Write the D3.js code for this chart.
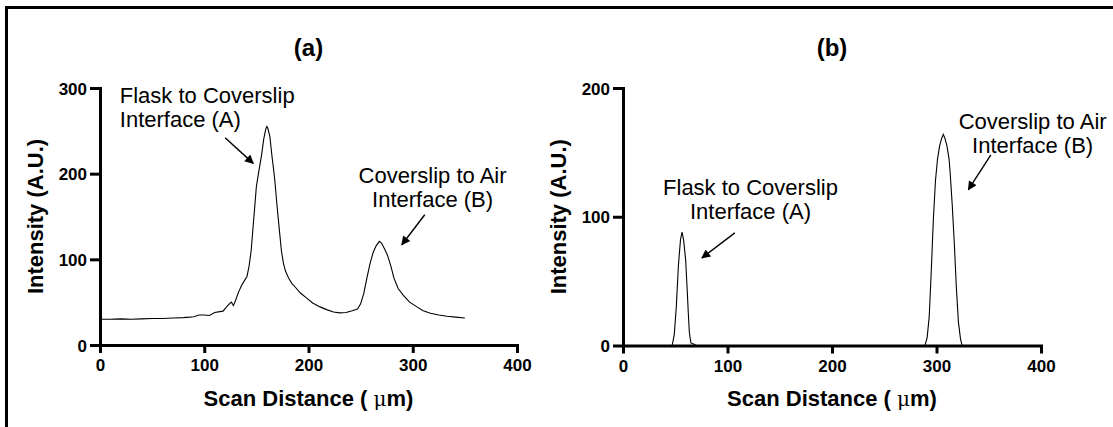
<!DOCTYPE html>
<html>
<head>
<meta charset="utf-8">
<script src="https://cdn.jsdelivr.net/npm/d3@7"></script>
<style>
	body { margin: 0; background: #fff; }
	svg { display: block; font-family: "Liberation Sans", Arial, sans-serif; }
</style>
</head>
<body>
<div id="chart"></div>
<script>
// tick values
var xTicks = [0, 100, 200, 300, 400];
var yTicksA = [0, 100, 200, 300];
var yTicksB = [0, 100, 200];

// panel (a) profile
var scanA = [0, 10, 20, 30, 40, 50, 60, 70, 80, 86, 90, 95, 100, 105, 110, 115, 118, 121, 124, 126, 128, 130,
	133, 136, 139, 141, 143, 145, 147, 149, 150, 152, 155, 157, 159, 160, 161, 163, 165, 167, 168, 170, 172,
	174, 176, 178, 181, 184, 187, 192, 198, 204, 211, 218, 224, 230, 236, 242, 247, 250, 253, 256, 259, 262,
	265, 268, 270, 273, 276, 279, 282, 286, 291, 297, 304, 310, 317, 325, 333, 341, 350];
var intensityA = [30, 30, 30.5, 30, 30.5, 31, 31, 31.5, 32, 32.5, 33, 35, 35, 34.5, 38, 39, 39.5, 44, 48, 50, 46, 52,
	62, 70, 76, 80, 92, 110, 140, 170, 185, 200, 222, 240, 252, 255, 253, 243, 220, 200, 188, 160, 135,
	110, 95, 86, 78, 72, 68, 61, 55, 49, 44.5, 41, 38.5, 37.5, 38, 40, 42, 48, 60, 78, 95, 108,
	116, 121, 119, 112, 104, 92, 78, 66, 58, 50, 44.5, 40, 37, 35, 33.5, 32.5, 31.5];

// panel (b) profile
var scanB = [0, 47, 49, 51, 53, 55, 56.5, 58, 60, 61.5, 62.5, 63.5, 65, 68, 70, 289, 291, 293, 295, 297, 299,
	301, 303, 305, 306.5, 308, 310, 312, 313, 315, 317, 319, 321, 323, 324.5, 350];
var intensityB = [0, 0, 8, 30, 62, 82, 88, 82, 66, 42, 25, 10, 2, 1, 0, 0, 6, 22, 58, 98, 128,
	145, 155, 161, 164, 161, 155, 145, 135, 110, 80, 45, 18, 5, 0, 0];

var panelTitles = ["(a)", "(b)"];
var xTitle = "Scan Distance (";
var yTitle = "Intensity (A.U.)";
var noteFlask = ["Flask to Coverslip", "Interface (A)"];
var noteAir = ["Coverslip to Air", "Interface (B)"];

function renderFigure() {
	var svg = d3.select("#chart")
		.append("svg")
		.attr("width", 1113)
		.attr("height", 427);

	svg.append("defs").append("marker")
		.attr("id", "head")
		.attr("viewBox", "0 0 10 10")
		.attr("refX", 9)
		.attr("refY", 5)
		.attr("markerWidth", 12)
		.attr("markerHeight", 9)
		.attr("markerUnits", "userSpaceOnUse")
		.attr("orient", "auto")
		.append("path")
		.attr("d", "M0,0L10,5L0,10z")
		.attr("fill", "#000");

	// frame, cut by the window on the right and bottom
	svg.append("path")
		.attr("d", "M6.5,440V7.5H1125")
		.attr("fill", "none")
		.attr("stroke", "#000")
		.attr("stroke-width", 3);

	drawPanel(svg, {
		left: 100, right: 517, top: 88, bottom: 345,
		yMax: 300, yTicks: yTicksA,
		xs: scanA, ys: intensityA,
		title: panelTitles[0],
		notes: [
			{ lines: noteFlask, x: 19, y: 282.5, anchor: "start" },
			{ lines: noteAir, x: 319, y: 189.5, anchor: "middle" }
		],
		arrows: [
			{ x1: 120, y1: 242, x2: 147, y2: 212 },
			{ x1: 311.5, y1: 152, x2: 289.5, y2: 117 }
		]
	});

	drawPanel(svg, {
		left: 623, right: 1041, top: 88, bottom: 345.5,
		yMax: 200, yTicks: yTicksB,
		xs: scanB, ys: intensityB,
		title: panelTitles[1],
		notes: [
			{ lines: noteFlask, x: 122, y: 117, anchor: "middle" },
			{ lines: noteAir, x: 392, y: 168.5, anchor: "middle" }
		],
		arrows: [
			{ x1: 107, y1: 87.5, x2: 75.5, y2: 68 },
			{ x1: 352, y1: 148, x2: 330.5, y2: 121 }
		]
	});
}

function drawPanel(svg, p) {
	var x = d3.scaleLinear().domain([0, 400]).range([p.left, p.right]);
	var y = d3.scaleLinear().domain([0, p.yMax]).range([p.bottom, p.top]);

	// data line
	var pts = p.xs.map(function (d, i) { return [d, p.ys[i]]; });
	svg.append("path")
		.datum(pts)
		.attr("fill", "none")
		.attr("stroke", "#000")
		.attr("stroke-width", 1.1)
		.attr("d", d3.line()
			.x(function (d) { return x(d[0]); })
			.y(function (d) { return y(d[1]); }));

	// X axis
	var gx = svg.append("g")
		.attr("transform", "translate(0," + p.bottom + ")")
		.call(d3.axisBottom(x).tickValues(xTicks).tickSize(8).tickPadding(6).tickSizeOuter(0));
	// Y axis
	var gy = svg.append("g")
		.attr("transform", "translate(" + p.left + ",0)")
		.call(d3.axisLeft(y).tickValues(p.yTicks).tickSize(10).tickPadding(3).tickSizeOuter(0));

	[gx, gy].forEach(function (g) {
		g.select(".domain").attr("stroke-width", 3).attr("stroke-linecap", "square");
		g.selectAll(".tick line").attr("stroke-width", 3);
		g.selectAll(".tick text")
			.attr("fill", "#000")
			.style("font-family", "'Liberation Sans', Arial, sans-serif")
			.style("font-size", "17px")
			.style("font-weight", "bold");
	});
	gy.selectAll(".tick text").attr("dy", "0.36em");

	var cx = (p.left + p.right) / 2;
	svg.append("text")
		.attr("x", cx)
		.attr("y", 56)
		.attr("text-anchor", "middle")
		.style("font-size", "24px")
		.style("font-weight", "bold")
		.text(p.title);

	var xt = svg.append("text")
		.attr("x", cx)
		.attr("y", 406)
		.attr("text-anchor", "middle")
		.style("font-size", "22px")
		.style("font-weight", "bold");
	xt.append("tspan").text(xTitle + " ");
	xt.append("tspan").style("font-weight", "normal").style("font-family", "'DejaVu Serif', serif").style("font-size", "20px").text("\u03bc");
	xt.append("tspan").text("m)");

	svg.append("text")
		.attr("transform", "translate(" + (p.left - 65) + "," + ((p.top + p.bottom) / 2) + ") rotate(-90)")
		.attr("dy", "0.35em")
		.attr("text-anchor", "middle")
		.style("font-size", "22px")
		.style("font-weight", "bold")
		.text(yTitle);

	// annotations
	p.notes.forEach(function (n) {
		var t = svg.append("text")
			.attr("text-anchor", n.anchor)
			.style("font-size", "22px");
		n.lines.forEach(function (line, i) {
			t.append("tspan")
				.attr("x", x(n.x))
				.attr("y", y(n.y) + i * 24)
				.text(line);
		});
	});

	p.arrows.forEach(function (a) {
		svg.append("line")
			.attr("x1", x(a.x1))
			.attr("y1", y(a.y1))
			.attr("x2", x(a.x2))
			.attr("y2", y(a.y2))
			.attr("stroke", "#000")
			.attr("stroke-width", 1.4)
			.attr("marker-end", "url(#head)");
	});
}

renderFigure();
</script>
</body>
</html>
